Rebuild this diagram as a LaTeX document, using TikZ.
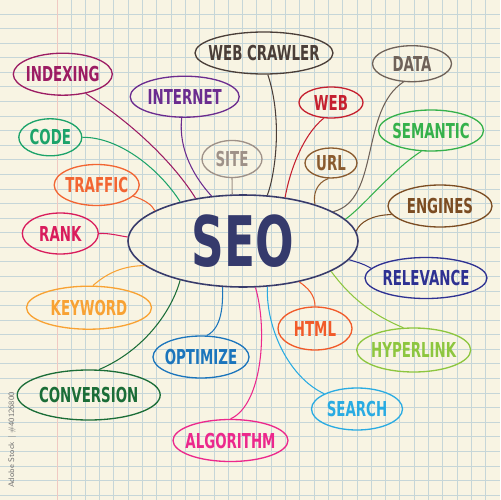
\documentclass[tikz,border=0pt]{standalone}
\usepackage{fontspec}
\usepackage{graphicx}
\newfontfamily\lblfont{DejaVu Sans}[FakeStretch=0.65]
\usetikzlibrary{shapes.geometric}
\definecolor{paper}{HTML}{F8F4E3}
\definecolor{gridc}{HTML}{C6D6D8}
\definecolor{marginc}{HTML}{F0C9C2}
\definecolor{cSeo}{HTML}{383B6B}
\definecolor{cSeoT}{HTML}{353A6C}
\definecolor{cIndex}{HTML}{9C1C63}
\definecolor{cInternet}{HTML}{6B2C8F}
\definecolor{cCrawler}{HTML}{4A3E38}
\definecolor{cData}{HTML}{6F6259}
\definecolor{cWeb}{HTML}{C5202F}
\definecolor{cSite}{HTML}{9E9188}
\definecolor{cUrl}{HTML}{8A5B2E}
\definecolor{cSemantic}{HTML}{35B14B}
\definecolor{cCode}{HTML}{1CA36A}
\definecolor{cTraffic}{HTML}{F26532}
\definecolor{cRank}{HTML}{D91C5C}
\definecolor{cEngines}{HTML}{7B4C22}
\definecolor{cRelev}{HTML}{2E3192}
\definecolor{cKeyword}{HTML}{F8A233}
\definecolor{cHtml}{HTML}{F15A29}
\definecolor{cHyper}{HTML}{8DC63F}
\definecolor{cOptim}{HTML}{1B75BC}
\definecolor{cConv}{HTML}{1B6D37}
\definecolor{cSearch}{HTML}{29ABE2}
\definecolor{cAlgo}{HTML}{EC288C}
\newcommand\ctext[1]{\makebox[0pt]{\raisebox{-0.365em}[0pt][0pt]{#1}}}
\tikzset{
  bub/.style={ellipse, draw=#1, text=#1, line width=0.75pt, inner sep=0pt,
    font=\lblfont\bfseries\fontsize{11.7}{12}\selectfont},
  sz/.style 2 args={minimum width=#1*0.02cm, minimum height=#2*0.02cm},
  conn/.style={draw=#1, line width=0.6pt},
  gridline/.style={draw=gridc, line width=0.5pt},
}
\begin{document}
\begin{tikzpicture}[x=0.02cm, y=-0.02cm]
\useasboundingbox (0,0) rectangle (500,500);
\fill[paper] (0,0) rectangle (500,500);
\foreach \j in {0,...,33} \draw[gridline] (0,{14+14.58*\j}) -- (500,{14+14.58*\j});
\foreach \i in {0,...,29} \draw[gridline] ({71+14.3*\i},0) -- ({71+14.3*\i},500);
\draw[draw=marginc, line width=0.6pt] (57.3,0) -- (57.3,500);
\node[rotate=90, text=black!55, font=\sffamily\fontsize{4.6}{5}\selectfont] (wm) at (12,440) {Adobe Stock | \#40126800};

% central node
\node[ellipse, draw=cSeo, line width=0.9pt, inner sep=0pt, sz={230}{92}, text=cSeoT,
  font=\lblfont\bfseries\fontsize{39.7}{40}\selectfont] (seo) at (243,241) {\ctext{SEO}};

% satellite nodes
\node[bub=cIndex, sz={99}{42}] (indexing) at (62.8,74.2) {\ctext{INDEXING}};
\node[bub=cInternet, sz={109}{41}] (internet) at (184.7,96.7) {\ctext{INTERNET}};
\node[bub=cCrawler, sz={138}{42}] (crawler) at (264,53) {\ctext{WEB CRAWLER}};
\node[bub=cData, sz={79}{36}] (data) at (412,63.7) {\ctext{DATA}};
\node[bub=cWeb, sz={64}{31}] (web) at (331,102.5) {\ctext{WEB}};
\node[bub=cSite, sz={60}{37}] (site) at (232,159) {\ctext{SITE}};
\node[bub=cUrl, sz={52}{30}] (url) at (331,163) {\ctext{URL}};
\node[bub=cSemantic, sz={105}{41}] (semantic) at (431,130.5) {\ctext{SEMANTIC}};
\node[bub=cCode, sz={63}{37}] (code) at (50.3,137.3) {\ctext{CODE}};
\node[bub=cTraffic, sz={85}{41}] (traffic) at (96.7,185) {\ctext{TRAFFIC}};
\node[bub=cRank, sz={76}{41}] (rank) at (60.3,233.5) {\ctext{RANK}};
\node[bub=cEngines, sz={104}{42}] (engines) at (440,206) {\ctext{ENGINES}};
\node[bub=cRelev, sz={122}{41}] (relevance) at (426,278) {\ctext{RELEVANCE}};
\node[bub=cKeyword, sz={125}{43}] (keyword) at (89,307.7) {\ctext{KEYWORD}};
\node[bub=cHtml, sz={74}{43}] (html) at (315,328.5) {\ctext{HTML}};
\node[bub=cHyper, sz={114}{44}] (hyperlink) at (413.7,350) {\ctext{HYPERLINK}};
\node[bub=cOptim, sz={96}{42}] (optimize) at (201,357) {\ctext{OPTIMIZE}};
\node[bub=cConv, sz={143}{50}] (conversion) at (88.7,395) {\ctext{CONVERSION}};
\node[bub=cSearch, sz={91}{42}] (search) at (357,409) {\ctext{SEARCH}};
\node[bub=cAlgo, sz={115}{42}] (algorithm) at (230.5,440.5) {\ctext{ALGORITHM}};

% connectors
\draw[conn=cIndex] (indexing.-40) .. controls (135,125) and (175,165) .. (seo.138);
\draw[conn=cCode] (code.0) .. controls (120,137) and (160,170) .. (seo.148);
\draw[conn=cTraffic] (traffic.-17) .. controls (145,200) and (152,205) .. (seo.161);
\draw[conn=cRank] (rank.0) .. controls (110,233) and (120,236) .. (seo.178);
\draw[conn=cInternet] (internet.-98) .. controls (178,150) and (195,178) .. (seo.125);
\draw[conn=cSite] (site.south) -- (seo.103);
\draw[conn=cCrawler] (crawler.-80) .. controls (283,120) and (275,175) .. (seo.62);
\draw[conn=cWeb] (web.-115) .. controls (303,135) and (290,170) .. (seo.46);
\draw[conn=cUrl] (url.-100) .. controls (316,183) and (313,195) .. (seo.27);
\draw[conn=cData] (data.-115) .. controls (360,110) and (380,200) .. (seo.18);
\draw[conn=cSemantic] (semantic.-115) .. controls (392,170) and (365,205) .. (seo.12);
\draw[conn=cEngines] (engines.190) .. controls (372,215) and (360,222) .. (seo.5);
\draw[conn=cRelev] (relevance.170) .. controls (362,263) and (356,262) .. (seo.-10);
\draw[conn=cHyper] (hyperlink.115) .. controls (365,312) and (345,290) .. (seo.-19);
\draw[conn=cHtml] (html.north) .. controls (315,295) and (308,288) .. (seo.-36);
\draw[conn=cSearch] (search.155) .. controls (290,378) and (266,330) .. (seo.-62);
\draw[conn=cAlgo] (algorithm.north) .. controls (262,405) and (268,330) .. (seo.-75);
\draw[conn=cOptim] (optimize.75) .. controls (222,328) and (223,305) .. (seo.-114);
\draw[conn=cConv] (conversion.68) .. controls (145,350) and (172,310) .. (seo.-148);
\draw[conn=cKeyword] (keyword.80) .. controls (105,275) and (120,266) .. (seo.-166);
\end{tikzpicture}
\end{document}
